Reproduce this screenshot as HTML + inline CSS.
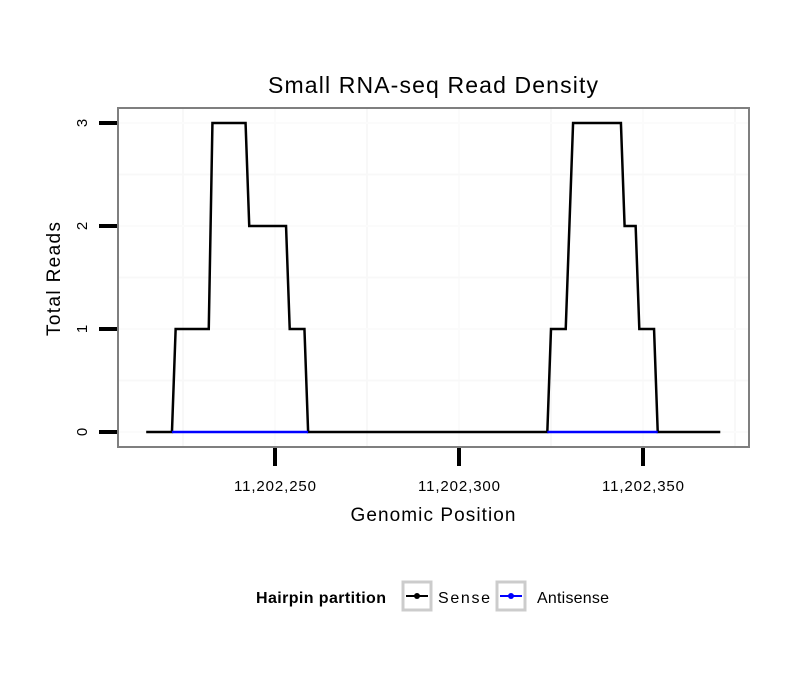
<!DOCTYPE html>
<html><head><meta charset="utf-8"><style>
body{margin:0;background:#fff;font-family:"Liberation Sans",sans-serif}
svg text{font-family:"Liberation Sans",sans-serif}
</style></head><body>
<svg id="chart" width="810" height="690">
<text x="433" y="93" text-anchor="middle" font-size="23" textLength="330">Small RNA-seq Read Density</text>
<rect x="118" y="108" width="631" height="339" fill="#fff"/>
<g id="grid"></g>
<g id="series"></g>
<rect x="118" y="108" width="631" height="339" fill="none" stroke="#7f7f7f" stroke-width="2"/>
<g id="axes"></g>
<text x="433" y="521" text-anchor="middle" font-size="19" textLength="165">Genomic Position</text>
<text transform="translate(60,279) rotate(-90)" text-anchor="middle" font-size="19" textLength="114">Total Reads</text>
<g>
<text x="256" y="603" font-size="16" font-weight="bold" textLength="130">Hairpin partition</text>
<g>
<rect x="403" y="582" width="28" height="28" fill="#fff" stroke="#ccc" stroke-width="3"/>
<line x1="406" y1="596" x2="428" y2="596" stroke="#000" stroke-width="2"/><circle cx="417" cy="596" r="3"/>
<text x="438" y="603" font-size="16" textLength="52">Sense</text></g>
<g>
<rect x="497" y="582" width="28" height="28" fill="#fff" stroke="#ccc" stroke-width="3"/>
<line x1="500" y1="596" x2="522" y2="596" stroke="#00f" stroke-width="2"/><circle cx="511" cy="596" r="3" fill="#00f"/>
<text x="537" y="603" font-size="16" textLength="72">Antisense</text></g>
</g>
</svg>
<script>
const senseOffsets=[215,222,223,232,233,242,243,253,254,258,259,324,325,329,331,344,345,348,349,353,354,371];
const senseValues=[0,0,1,1,3,3,2,2,1,1,0,0,1,1,3,3,2,2,1,1,0,0];
const antiSegStart=[222,324];
const antiSegEnd=[259,354];
const xTicks=[250,300,350];
const xTickLabels=["11,202,250","11,202,300","11,202,350"];
const yTicks=[0,1,2,3];
const xMinor=[225,275,325,375];
const yMinor=[0.5,1.5,2.5];
const NS="http://www.w3.org/2000/svg";
const X=v=>275+(v-250)*3.68;
const Y=v=>432-v*103;
function mk(t,a,p){const e=document.createElementNS(NS,t);for(const k in a)e.setAttribute(k,a[k]);p.appendChild(e);return e;}
const grid=document.getElementById('grid'),ser=document.getElementById('series'),ax=document.getElementById('axes');
xMinor.forEach(v=>{if(X(v)<749){const l=mk('line',{x1:X(v),x2:X(v),y1:109,y2:446,stroke:'#f8f8f8','stroke-width':2},grid);

}});
xTicks.forEach(v=>{const l=mk('line',{x1:X(v),x2:X(v),y1:109,y2:446,stroke:'#fbfbfb','stroke-width':2},grid);

});
yMinor.forEach(v=>{const l=mk('line',{x1:119,x2:748,y1:Y(v),y2:Y(v),stroke:'#f8f8f8','stroke-width':2},grid);

});
yTicks.forEach(v=>{const l=mk('line',{x1:119,x2:748,y1:Y(v),y2:Y(v),stroke:'#fbfbfb','stroke-width':2},grid);

});
const pts=senseOffsets.map((o,i)=>X(o)+','+Y(senseValues[i])).join(' ');
const pl=mk('polyline',{points:pts,fill:'none',stroke:'#000','stroke-width':2.5},ser);


antiSegStart.forEach((s,i)=>{const l=mk('line',{x1:X(s),x2:X(antiSegEnd[i]),y1:Y(0),y2:Y(0),stroke:'#00f','stroke-width':2.5},ser);

});
yTicks.forEach(v=>{const t=mk('line',{x1:99,x2:117,y1:Y(v),y2:Y(v),stroke:'#000','stroke-width':4},ax);


const tx=mk('text',{transform:`translate(87,${Y(v)}) rotate(-90)`,'text-anchor':'middle','font-size':15},ax);
tx.textContent=v;

});
xTicks.forEach((v,i)=>{const t=mk('line',{x1:X(v),x2:X(v),y1:448,y2:466,stroke:'#000','stroke-width':4},ax);


const tx=mk('text',{x:X(v),y:491,'text-anchor':'middle','font-size':15,textLength:82},ax);
tx.textContent=xTickLabels[i];

});
</script>
</body></html>
